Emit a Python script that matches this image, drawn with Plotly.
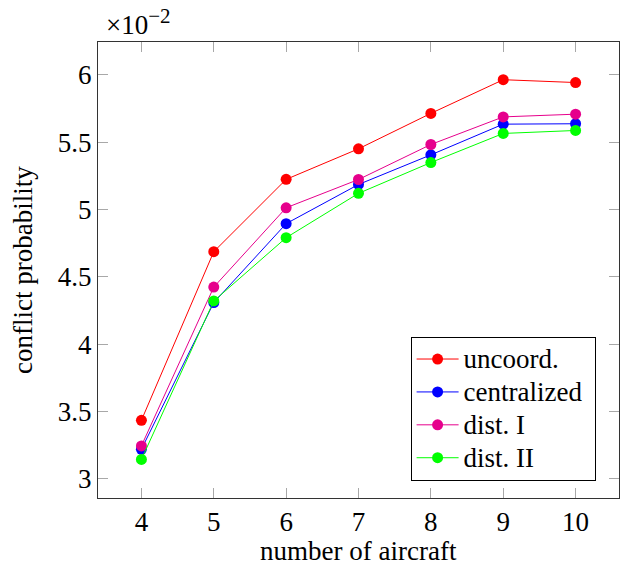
import plotly.graph_objects as go

aircraft = [4, 5, 6, 7, 8, 9, 10]
uncoord = [3.435, 4.687, 5.224, 5.451, 5.714, 5.964, 5.943]
centralized = [3.220, 4.309, 4.895, 5.186, 5.406, 5.634, 5.637]
dist_1 = [3.245, 4.424, 5.013, 5.223, 5.483, 5.688, 5.708]
dist_2 = [3.144, 4.321, 4.791, 5.120, 5.349, 5.565, 5.587]

series = [
    ("uncoord.", uncoord, "#ff0000"),
    ("centralized", centralized, "#0000ff"),
    ("dist. I", dist_1, "#e6008c"),
    ("dist. II", dist_2, "#00ff00"),
]

x_ticks = [4, 5, 6, 7, 8, 9, 10]
y_ticks = [3, 3.5, 4, 4.5, 5, 5.5, 6]
y_ticktext = ["3", "3.5", "4", "4.5", "5", "5.5", "6"]

FONT = "Liberation Serif, Times New Roman, serif"
FS = 27

fig = go.Figure()
for name, vals, color in series:
    fig.add_trace(go.Scatter(
        x=aircraft, y=vals, mode="lines+markers",
        name=f'<span style="font-size:{FS}px">{name}&nbsp;</span>',
        line=dict(color=color, width=1),
        marker=dict(color=color, size=11, symbol="circle"),
    ))

axis_common = dict(
    showgrid=False, zeroline=False, showline=True, linecolor="#333333", linewidth=1,
    mirror="ticks", ticks="inside", ticklen=10, tickcolor="#a8a8a8", tickwidth=1.3,
    tickfont=dict(family=FONT, size=FS, color="black"), automargin=False,
)

fig.update_layout(
    width=621, height=572,
    margin=dict(l=98, r=2, t=42, b=74),
    paper_bgcolor="white", plot_bgcolor="white",
    font=dict(family=FONT, size=FS, color="black"),
    xaxis=dict(range=[3.4, 10.6], tickvals=x_ticks, **axis_common),
    yaxis=dict(range=[2.858, 6.244], tickvals=y_ticks, ticktext=y_ticktext, **axis_common),
    legend=dict(
        x=0.6, y=0.354, xanchor="left", yanchor="top",
        bordercolor="black", borderwidth=1, bgcolor="white",
        font=dict(family=FONT, size=23, color="black"),
        itemwidth=42, tracegroupgap=0,
    ),
    showlegend=True,
)

fig.add_annotation(
    text="conflict probability", textangle=-90, showarrow=False,
    xref="paper", yref="paper", x=0, y=0.5, xshift=-75,
    xanchor="center", yanchor="middle",
    font=dict(family=FONT, size=FS, color="black"),
)
fig.add_annotation(
    text="number of aircraft", showarrow=False,
    xref="paper", yref="paper", x=0.5, y=0, yshift=-53,
    xanchor="center", yanchor="middle",
    font=dict(family=FONT, size=FS, color="black"),
)
fig.add_annotation(
    text="×10<sup><span style=\"font-size:21px\">−2</span></sup>", showarrow=False,
    xref="paper", yref="paper", x=0, y=1, xshift=6, yshift=0,
    xanchor="left", yanchor="bottom",
    font=dict(family=FONT, size=27, color="black"),
)

fig.write_html(
    "out.html",
    config={"displayModeBar": False},
    post_script="document.body.style.margin='0';document.body.style.overflow='hidden';",
)
